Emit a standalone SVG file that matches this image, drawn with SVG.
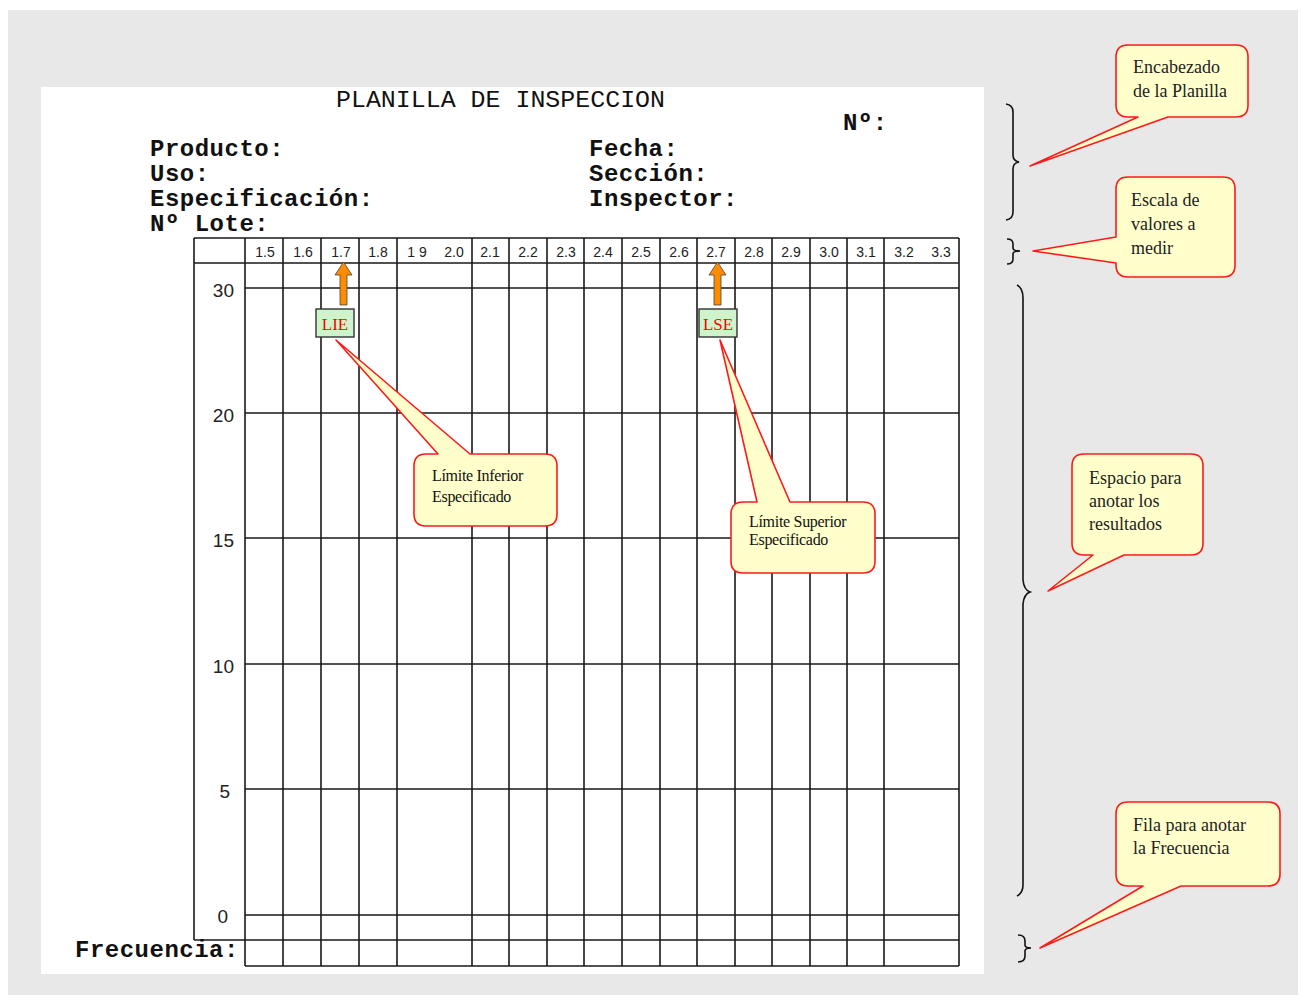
<svg xmlns="http://www.w3.org/2000/svg" width="1301" height="995" viewBox="0 0 1301 995">
  <defs>
    <style>
      .hdr { font-family: "Liberation Mono", "DejaVu Sans Mono", monospace; font-weight: bold; font-size: 24px; letter-spacing: 0.5px; fill: #111; }
      .title { font-family: "Liberation Mono", "DejaVu Sans Mono", monospace; font-size: 24px; fill: #111; }
      .scale { font-family: "Liberation Sans", Arial, sans-serif; font-size: 14px; fill: #222; text-anchor: middle; }
      .yval { font-family: "Liberation Sans", Arial, sans-serif; font-size: 19px; fill: #222; text-anchor: end; }
      .grid { stroke: #1a1a1a; stroke-width: 1.6; fill: none; }
      .brace { stroke: #111; stroke-width: 1.6; fill: none; }
      .callout { fill: #ffffcc; stroke: #ff1a1a; stroke-width: 1.6; stroke-linejoin: round; }
      .ctext { font-family: "Liberation Serif", "Times New Roman", serif; font-size: 18px; fill: #222; }
      .ctext-s { font-family: "Liberation Serif", "Times New Roman", serif; font-size: 16px; fill: #111; letter-spacing: -0.3px; }
      .limbox { fill: #ccf5cc; stroke: #333; stroke-width: 1.4; }
      .limtext { font-family: "Liberation Serif", "Times New Roman", serif; font-size: 17px; fill: #ff0000; text-anchor: middle; }
      .arrow { fill: #ff8c00; stroke: #444; stroke-width: 0.8; }
    </style>
  </defs>

  <!-- page background and sheet -->
  <rect x="0" y="0" width="1301" height="995" fill="#ffffff"/>
  <rect x="8" y="10" width="1290" height="985" fill="#e8e8e8"/>
  <rect x="41" y="87" width="943" height="887" fill="#ffffff"/>

  <!-- sheet header -->
  <g id="header">
    <text class="title" x="336" y="107" textLength="329" lengthAdjust="spacingAndGlyphs">PLANILLA DE INSPECCION</text>
    <text class="hdr" x="843" y="130">Nº:</text>
    <text class="hdr" x="150" y="156">Producto:</text>
    <text class="hdr" x="150" y="181">Uso:</text>
    <text class="hdr" x="150" y="206">Especificación:</text>
    <text class="hdr" x="150" y="231">Nº Lote:</text>
    <text class="hdr" x="589" y="156">Fecha:</text>
    <text class="hdr" x="589" y="181">Sección:</text>
    <text class="hdr" x="589" y="206">Inspector:</text>
  </g>

  <!-- tally grid -->
  <g id="grid">
    <path class="grid" d="M194,238 H959 M194,263 H959 M245,288 H959 M245,413 H959 M245,538 H959 M245,664 H959 M245,789 H959 M245,915 H959 M194,940 H959 M245,966 H959"/>
    <path class="grid" d="M194,238 V940 M245,238 V966 M283,238 V966 M321,238 V966 M359,238 V966 M397,238 V966 M472,238 V966 M509,238 V966 M547,238 V966 M584,238 V966 M622,238 V966 M660,238 V966 M697,238 V966 M735,238 V966 M772,238 V966 M810,238 V966 M847,238 V966 M884,238 V966 M959,238 V966"/>
    <g id="scale-values">
      <text class="scale" x="265" y="257">1.5</text>
      <text class="scale" x="303" y="257">1.6</text>
      <text class="scale" x="341" y="257">1.7</text>
      <text class="scale" x="378" y="257">1.8</text>
      <text class="scale" x="417" y="257">1 9</text>
      <text class="scale" x="454" y="257">2.0</text>
      <text class="scale" x="490" y="257">2.1</text>
      <text class="scale" x="528" y="257">2.2</text>
      <text class="scale" x="566" y="257">2.3</text>
      <text class="scale" x="603" y="257">2.4</text>
      <text class="scale" x="641" y="257">2.5</text>
      <text class="scale" x="679" y="257">2.6</text>
      <text class="scale" x="716" y="257">2.7</text>
      <text class="scale" x="754" y="257">2.8</text>
      <text class="scale" x="791" y="257">2.9</text>
      <text class="scale" x="829" y="257">3.0</text>
      <text class="scale" x="866" y="257">3.1</text>
      <text class="scale" x="904" y="257">3.2</text>
      <text class="scale" x="941" y="257">3.3</text>
    </g>
    <g id="counts">
      <text class="yval" x="234" y="297">30</text>
      <text class="yval" x="234" y="422">20</text>
      <text class="yval" x="234" y="547">15</text>
      <text class="yval" x="234" y="673">10</text>
      <text class="yval" x="230" y="798">5</text>
      <text class="yval" x="228" y="923">0</text>
    </g>
    <text class="hdr" x="75" y="957">Frecuencia:</text>
  </g>

  <!-- specification limit markers -->
  <g id="lie">
    <path class="arrow" d="M343.5,262 L352,275 H347 V305 H340 V275 H335 Z"/>
    <rect class="limbox" x="316" y="309" width="38" height="28"/>
    <text class="limtext" x="335" y="330">LIE</text>
  </g>
  <g id="lse">
    <path class="arrow" d="M717.5,262 L726,275 H721 V305 H714 V275 H709 Z"/>
    <rect class="limbox" x="699" y="309" width="38" height="28"/>
    <text class="limtext" x="718" y="330">LSE</text>
  </g>

  <!-- section braces -->
  <g id="connectors">
    <path class="brace" d="M1006,104 Q1013,105 1013,112 V155 Q1013,161 1019,162 Q1013,163 1013,169 V212 Q1013,219 1006,220"/>
    <path class="brace" d="M1007,239 Q1013,239 1013,244 V248 Q1013,251 1020,251 Q1013,251 1013,254 V259 Q1013,264 1007,264"/>
    <path class="brace" d="M1017,285 Q1023,288 1023,298 V580 Q1024,590 1030,592 Q1024,594 1023,604 V885 Q1023,893 1017,896"/>
    <path class="brace" d="M1018,935 Q1025,935 1025,941 V945 Q1025,948 1031,948 Q1025,948 1025,951 V956 Q1025,962 1018,962"/>
  </g>

  <!-- callouts -->
  <g id="callout-encabezado">
    <path class="callout" d="M1128,45 H1236 Q1248,45 1248,57 V105 Q1248,117 1236,117 H1168 L1030,166 L1138,117 H1128 Q1116,117 1116,105 V57 Q1116,45 1128,45 Z"/>
    <text class="ctext" x="1133" y="73">Encabezado</text>
    <text class="ctext" x="1133" y="97">de la Planilla</text>
  </g>
  <g id="callout-escala">
    <path class="callout" d="M1128,177 H1223 Q1235,177 1235,189 V265 Q1235,277 1223,277 H1128 Q1116,277 1116,265 V263 L1033,251 L1116,237 V189 Q1116,177 1128,177 Z"/>
    <text class="ctext" x="1131" y="206">Escala  de</text>
    <text class="ctext" x="1131" y="230">valores a</text>
    <text class="ctext" x="1131" y="254">medir</text>
  </g>
  <g id="callout-espacio">
    <path class="callout" d="M1084,454 H1191 Q1203,454 1203,466 V543 Q1203,555 1191,555 H1124 L1048,591 L1093,555 H1084 Q1072,555 1072,543 V466 Q1072,454 1084,454 Z"/>
    <text class="ctext" x="1089" y="484">Espacio para</text>
    <text class="ctext" x="1089" y="507">anotar los</text>
    <text class="ctext" x="1089" y="530">resultados</text>
  </g>
  <g id="callout-frecuencia">
    <path class="callout" d="M1128,802 H1268 Q1280,802 1280,814 V874 Q1280,886 1268,886 H1181 L1040,948 L1143,886 H1128 Q1116,886 1116,874 V814 Q1116,802 1128,802 Z"/>
    <text class="ctext" x="1133" y="831">Fila para anotar</text>
    <text class="ctext" x="1133" y="854">la Frecuencia</text>
  </g>
  <g id="callout-lie">
    <path class="callout" d="M426,454 H438 L336,340 L470,454 H545 Q557,454 557,466 V514 Q557,526 545,526 H426 Q414,526 414,514 V466 Q414,454 426,454 Z"/>
    <text class="ctext-s" x="432" y="481">Límite Inferior</text>
    <text class="ctext-s" x="432" y="502">Especificado</text>
  </g>
  <g id="callout-lse">
    <path class="callout" d="M743,502 H757 L720,340 L790,502 H863 Q875,502 875,514 V561 Q875,573 863,573 H743 Q731,573 731,561 V514 Q731,502 743,502 Z"/>
    <text class="ctext-s" x="749" y="527">Límite Superior</text>
    <text class="ctext-s" x="749" y="545">Especificado</text>
  </g>
</svg>
